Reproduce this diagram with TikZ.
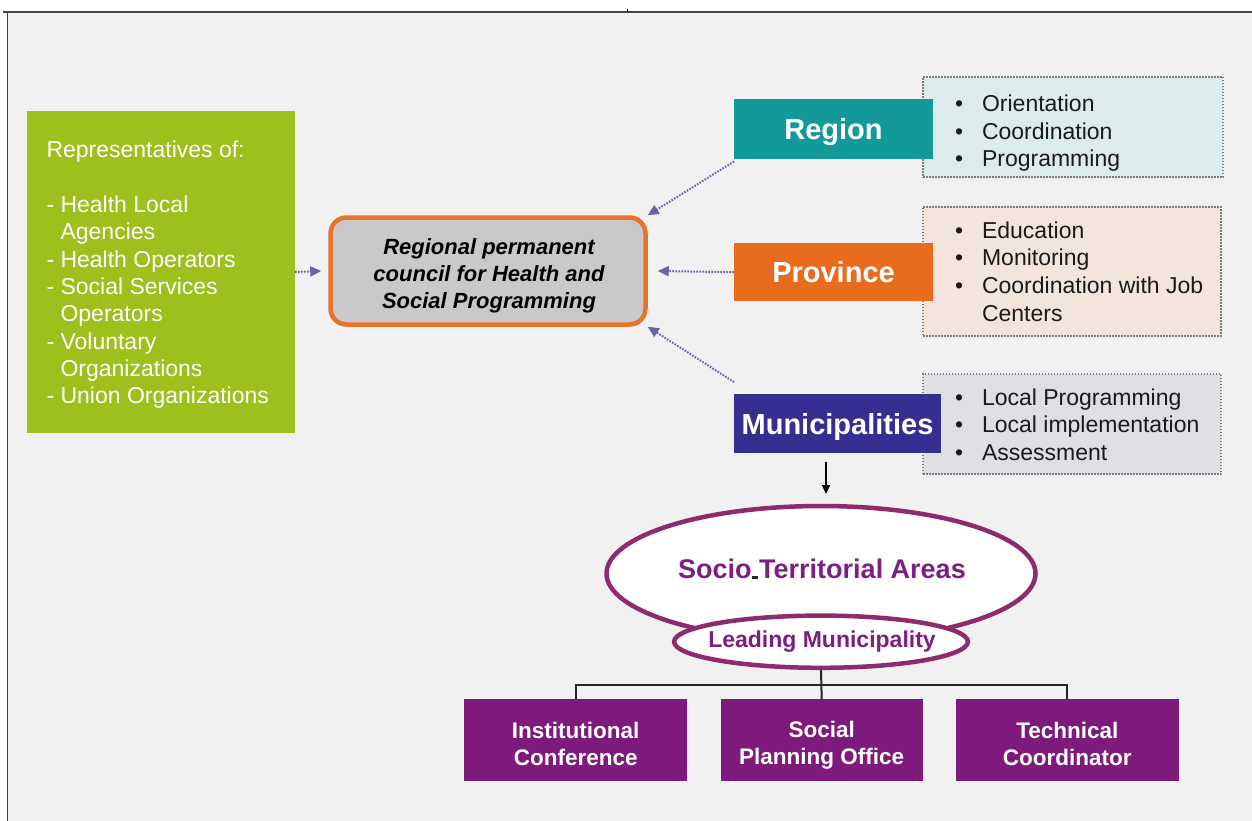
\documentclass[tikz,border=0pt]{standalone}
\usepackage{fontspec}
\setmainfont{Liberation Sans}
\usetikzlibrary{arrows.meta,shapes.geometric}
\definecolor{bgcol}{HTML}{F1F1F1}
\definecolor{framecol}{HTML}{454545}
\definecolor{greencol}{HTML}{9DC01C}
\definecolor{tealcol}{HTML}{14999A}
\definecolor{orangecol}{HTML}{E96B1E}
\definecolor{navycol}{HTML}{352F91}
\definecolor{purplebox}{HTML}{7D1A7B}
\definecolor{ellcol}{HTML}{8E2B6C}
\definecolor{purpletext}{HTML}{7B1F80}
\definecolor{arrowcol}{HTML}{6B62A8}
\definecolor{regfill}{HTML}{DCECEC}
\definecolor{provfill}{HTML}{F3E5DB}
\definecolor{munfill}{HTML}{DEDEE3}
\definecolor{dotcol}{HTML}{7C7C7C}
\definecolor{councilfill}{HTML}{C9C9C9}
\definecolor{councilborder}{HTML}{E8722A}
\definecolor{listtext}{HTML}{1A1A1A}
\newcommand{\bstrut}{\rule[-1.5pt]{0pt}{27pt}}
\begin{document}
\begin{tikzpicture}[x=1pt,y=-1pt,
  levelbox/.style={draw=none, inner sep=0, outer sep=0, text=white,
    font=\fontsize{29}{34}\selectfont\bfseries, text height=21pt, text depth=0pt},
  listbox/.style={draw=dotcol, line width=2pt, dash pattern=on 1.6pt off 1.4pt,
    inner sep=0, outer sep=0},
  listtxt/.style={anchor=base west, inner sep=0, outer sep=0, text=listtext,
    font=\fontsize{23}{27.6}\selectfont},
  dotarrow/.style={draw=arrowcol, line width=2pt, dash pattern=on 1.6pt off 1.4pt,
    -{Triangle[length=11pt,width=10pt,fill=arrowcol]}},
  bottombox/.style={fill=purplebox, inner sep=0, outer sep=0, text=white, align=center,
    font=\fontsize{22.5}{27}\selectfont\bfseries, minimum height=81.7pt},
  conn/.style={draw=black!85, line width=2pt},
  ell/.style={ellipse, draw=ellcol, line width=4.5pt, fill=white, inner sep=0}
]
\useasboundingbox (0,0) rectangle (1252,821);
% page
\fill[white] (0,0) rectangle (1252,821);
\fill[bgcol] (7.5,12.5) rectangle (1252,821);
\draw[framecol, line width=2pt] (3,12.5) -- (1252,12.5);
\draw[framecol, line width=1.5pt] (7.5,12.5) -- (7.5,821);
\draw[black, line width=1pt] (627.5,9.5) -- (627.5,12);

% left green box
\node[fill=greencol, inner sep=0, outer sep=0, minimum width=268pt, minimum height=322pt] (reps) at (161,272) {};
\node[anchor=base west, inner sep=0, outer sep=0, text=white, font=\fontsize{23}{27.3}\selectfont] (repstext) at (46.5,158)
 {\begin{tabular}[t]{@{}l@{}}Representatives of:\\ \\
 - Health Local\\ \phantom{- }Agencies\\ - Health Operators\\ - Social Services\\
 \phantom{- }Operators\\ - Voluntary\\ \phantom{- }Organizations\\ - Union Organizations\end{tabular}};

% central council
\node[fill=councilfill, draw=councilborder, line width=4.5pt, rounded corners=16pt,
  minimum width=315pt, minimum height=107pt, inner sep=0] (council) at (488,271) {};
\node[anchor=base, inner sep=0, outer sep=0, font=\fontsize{22}{27.3}\selectfont\bfseries\itshape] (counciltext) at (489,254)
 {\begin{tabular}[t]{@{}c@{}}Regional permanent\\ council for Health and\\ Social Programming\end{tabular}};

% list boxes
\node[listbox, fill=regfill, minimum width=300pt, minimum height=100.6pt] (reglist) at (1073,127) {};
\node[listbox, fill=provfill, minimum width=298pt, minimum height=129pt] (provlist) at (1072,271.2) {};
\node[listbox, fill=munfill, minimum width=298pt, minimum height=100.3pt] (munlist) at (1072,424.2) {};

% level boxes
\node[levelbox, fill=tealcol, minimum width=199pt, minimum height=60pt] (region) at (833.5,129.5) {Region};
\node[levelbox, fill=orangecol, minimum width=199pt, minimum height=57.7pt] (province) at (833.5,272.2) {Province};
\node[levelbox, fill=navycol, minimum width=207pt, minimum height=59.3pt] (muni) at (837.5,423.7) {Municipalities};

% list texts
\node[listtxt] (regtext) at (955,111.5)
 {\begin{tabular}[t]{@{}l@{\hspace{19pt}}l@{}}\textbullet & Orientation\\ \textbullet & Coordination\\ \textbullet & Programming\end{tabular}};
\node[listtxt] (provtext) at (955,238.3)
 {\begin{tabular}[t]{@{}l@{\hspace{19pt}}l@{}}\textbullet & Education\\ \textbullet & Monitoring\\ \textbullet & Coordination with Job\\ & Centers\end{tabular}};
\node[listtxt] (muntext) at (955,405)
 {\begin{tabular}[t]{@{}l@{\hspace{19pt}}l@{}}\textbullet & Local Programming\\ \textbullet & Local implementation\\ \textbullet & Assessment\end{tabular}};

% dotted arrows
\draw[dotarrow] (reps.east) -- ([xshift=-7pt]council.west);
\draw[dotarrow] ([yshift=-2pt]region.south west) -- (council.north east);
\draw[dotarrow] (province.west) -- ([xshift=10pt]council.east);
\draw[dotarrow] ([yshift=12pt]muni.north west) -- (council.south east);

% municipalities down arrow
\coordinate (downstart) at (826,462);
\coordinate (downend) at (826,494);
\draw[black, line width=1.5pt, -{Triangle[length=9pt,width=8pt]}] (downstart) -- (downend);

% ellipses
\node[ell, minimum width=429pt, minimum height=135pt] (sta) at (821,573.5) {};
\node[anchor=base, inner sep=0, outer sep=0, text=purpletext, font=\fontsize{27}{32}\selectfont\bfseries] (statext) at (822,578)
 {Socio{\color{black!85}\rule[-1pt]{6pt}{2.7pt}}\hspace{1.5pt}Territorial Areas};
\node[ell, minimum width=293.8pt, minimum height=52.2pt] (lm) at (821,641.7) {};
\node[anchor=base, inner sep=0, outer sep=0, text=purpletext, font=\fontsize{23}{27}\selectfont\bfseries] (lmtext) at (822,647.5)
 {Leading Municipality};

% bottom boxes
\node[bottombox, minimum width=223.3pt] (inst) at (575.7,740.2) {\bstrut Institutional\\\bstrut Conference};
\node[bottombox, minimum width=202pt] (social) at (821.7,740.2) {\bstrut Social\\\bstrut Planning Office};
\node[bottombox, minimum width=223.3pt] (tech) at (1067.3,740.2) {\bstrut Technical\\\bstrut Coordinator};

% connectors
\draw[conn] (lm.south) -- (social.north);
\draw[conn] (inst.north) -- ++(0,-14) -| (tech.north);
\end{tikzpicture}
\end{document}
